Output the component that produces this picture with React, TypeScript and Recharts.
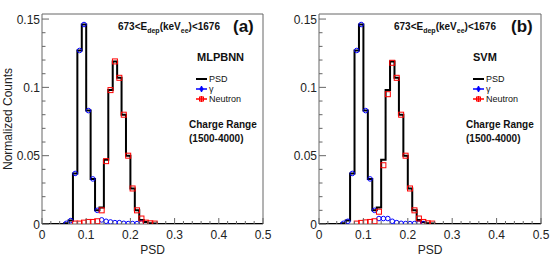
import React from "react";
import {
  ComposedChart,
  Line,
  Scatter,
  XAxis,
  YAxis,
  ReferenceArea,
} from "recharts";

// Two ROOT-style PSD histograms (MLPBNN vs SVM), 0.01 bins.

const FONT = "'Liberation Sans', Arial, Helvetica, sans-serif";
const BLUE = "#0000ff";
const RED = "#ff0000";
const FRAME = "#666666";

const Y_TOP = 0.1537; // ROOT max * 1.05

// black PSD histogram, step edges (left edge of each bin)
const psdEdges = [
  0, 0.05, 0.06, 0.07, 0.08, 0.09, 0.1, 0.11, 0.12, 0.13, 0.14, 0.15, 0.16,
  0.17, 0.18, 0.19, 0.2, 0.21, 0.22, 0.23, 0.24, 0.25, 0.26, 0.5,
];
const psdCounts = [
  0, 0.0005, 0.0025, 0.037, 0.127, 0.146, 0.083, 0.033, 0.01, 0.012, 0.047,
  0.098, 0.119, 0.107, 0.08, 0.05, 0.026, 0.01, 0.003, 0.0015, 0.0005, 0.0003,
  0, 0,
];

// (a) MLPBNN
const gammaCentersA = [
  0.055, 0.065, 0.075, 0.085, 0.095, 0.105, 0.115, 0.125, 0.135, 0.145, 0.155,
  0.165, 0.175, 0.185, 0.195, 0.205, 0.215, 0.225,
];
const gammaCountsA = [
  0.0005, 0.0025, 0.037, 0.127, 0.146, 0.083, 0.033, 0.01, 0.003, 0.002,
  0.0015, 0.001, 0.001, 0.0005, 0.0003, 0.0003, 0.0003, 0.0008,
];
const neutronCentersA = [
  0.075, 0.085, 0.095, 0.105, 0.115, 0.125, 0.135, 0.145, 0.155, 0.165, 0.175,
  0.185, 0.195, 0.205, 0.215, 0.225, 0.235, 0.245, 0.255,
];
const neutronCountsA = [
  0.0003, 0.0003, 0.001, 0.0015, 0.0015, 0.002, 0.01, 0.046, 0.098, 0.119,
  0.107, 0.08, 0.05, 0.026, 0.01, 0.004, 0.001, 0.0005, 0.0003,
];

// (b) SVM
const gammaCentersB = [
  0.055, 0.065, 0.075, 0.085, 0.095, 0.105, 0.115, 0.125, 0.135, 0.145, 0.155,
  0.165, 0.175, 0.185, 0.195, 0.205, 0.215, 0.225, 0.235,
];
const gammaCountsB = [
  0.0005, 0.002, 0.037, 0.127, 0.146, 0.083, 0.033, 0.01, 0.004, 0.004, 0.004,
  0.002, 0.001, 0.0005, 0.0003, 0.0003, 0.0003, 0.0005, 0.0003,
];
const neutronCentersB = [
  0.085, 0.095, 0.105, 0.115, 0.125, 0.135, 0.145, 0.155, 0.165, 0.175, 0.185,
  0.195, 0.205, 0.215, 0.225, 0.235, 0.245, 0.255,
];
const neutronCountsB = [
  0.0003, 0.0008, 0.0012, 0.0015, 0.002, 0.009, 0.043, 0.095, 0.118, 0.107,
  0.08, 0.05, 0.026, 0.01, 0.004, 0.0015, 0.0005, 0.0003,
];

const xTicks = [
  0, 0.02, 0.04, 0.06, 0.08, 0.1, 0.12, 0.14, 0.16, 0.18, 0.2, 0.22, 0.24,
  0.26, 0.28, 0.3, 0.32, 0.34, 0.36, 0.38, 0.4, 0.42, 0.44, 0.46, 0.48, 0.5,
];
const xMajor = [0, 0.1, 0.2, 0.3, 0.4, 0.5];
const yTicks = [
  0, 0.01, 0.02, 0.03, 0.04, 0.05, 0.06, 0.07, 0.08, 0.09, 0.1, 0.11, 0.12,
  0.13, 0.14, 0.15,
];
const yMajor = [0, 0.05, 0.1, 0.15];

const isMajor = (v: number, majors: number[]) =>
  majors.some((m) => Math.abs(m - v) < 1e-9);

const zip = (xs: number[], ys: number[]) =>
  xs.map((x, i) => ({ x, y: ys[i] }));

function XTick(props: any) {
  const { x, y, payload } = props;
  const major = isMajor(payload.value, xMajor);
  return (
    <g>
      <line x1={x} x2={x} y1={y} y2={y - (major ? 6 : 3)} stroke={FRAME} />
      {major && (
        <text
          x={x}
          y={y + 15}
          textAnchor="middle"
          fontSize={12}
          fontFamily={FONT}
          fill="#222"
        >
          {String(payload.value)}
        </text>
      )}
    </g>
  );
}

function YTick(props: any) {
  const { x, y, payload } = props;
  const major = isMajor(payload.value, yMajor);
  return (
    <g>
      <line x1={x} x2={x + (major ? 7 : 3.5)} y1={y} y2={y} stroke={FRAME} />
      {major && (
        <text
          x={x - 2}
          y={y + 4.5}
          textAnchor="end"
          fontSize={12}
          fontFamily={FONT}
          fill="#222"
        >
          {String(payload.value)}
        </text>
      )}
    </g>
  );
}

const circle = (p: any) => (
  <circle cx={p.cx} cy={p.cy} r={2.3} fill="none" stroke={BLUE} strokeWidth={1} />
);
const square = (p: any) => (
  <rect
    x={p.cx - 2.5}
    y={p.cy - 2.5}
    width={5}
    height={5}
    fill="none"
    stroke={RED}
    strokeWidth={1}
  />
);

function Panel(props: {
  gamma: { x: number; y: number }[];
  neutron: { x: number; y: number }[];
  width: number;
}) {
  const psd = zip(psdEdges, psdCounts);
  return (
    <ComposedChart
      width={props.width}
      height={265}
      margin={{ top: 14, right: 14, bottom: 0, left: 0 }}
    >
      <XAxis
        type="number"
        dataKey="x"
        domain={[0, 0.5]}
        ticks={xTicks}
        interval={0}
        height={41}
        tickSize={0}
        tickMargin={0}
        axisLine={false}
        tickLine={false}
        tick={<XTick />}
        allowDataOverflow
      />
      <YAxis
        type="number"
        dataKey="y"
        domain={[0, Y_TOP]}
        ticks={yTicks}
        interval={0}
        width={42}
        tickSize={0}
        tickMargin={0}
        axisLine={false}
        tickLine={false}
        tick={<YTick />}
        allowDataOverflow
      />
      <ReferenceArea
        x1={0}
        x2={0.5}
        y1={0}
        y2={Y_TOP}
        fill="none"
        stroke={FRAME}
        strokeWidth={1}
        ifOverflow="extendDomain"
      />
      <Line
        data={psd}
        dataKey="y"
        type="stepAfter"
        stroke="#000"
        strokeWidth={2}
        dot={false}
        isAnimationActive={false}
      />
      <Scatter
        data={props.gamma}
        dataKey="y"
        shape={circle}
        isAnimationActive={false}
      />
      <Scatter
        data={props.neutron}
        dataKey="y"
        shape={square}
        isAnimationActive={false}
      />
    </ComposedChart>
  );
}

function Labels(props: {
  dx: number;
  title: number;
  tag: number;
  tagText: string;
  method: string;
  methodX: number;
  legX: number;
  chargeX: number;
}) {
  const { dx } = props;
  const rows = [
    { y: 79, label: "PSD", kind: "line" },
    { y: 89, label: "γ", kind: "gamma" },
    { y: 99, label: "Neutron", kind: "neutron" },
  ];
  return (
    <g fontFamily={FONT} fill="#111">
      <text x={props.title} y={30} fontSize={10} fontWeight="bold">
        673&lt;E
        <tspan fontSize={7} dy={2.5}>
          dep
        </tspan>
        <tspan dy={-2.5}>(keV</tspan>
        <tspan fontSize={7} dy={2.5}>
          ee
        </tspan>
        <tspan dy={-2.5}>)&lt;1676</tspan>
      </text>
      <text x={props.tag} y={31.5} fontSize={17} fontWeight="bold">
        {props.tagText}
      </text>
      <text x={props.methodX} y={61} fontSize={11} fontWeight="bold">
        {props.method}
      </text>
      {rows.map((r) => {
        const c = r.kind === "gamma" ? BLUE : r.kind === "neutron" ? RED : "#000";
        return (
          <g key={r.label}>
            <line
              x1={props.legX}
              x2={props.legX + 11}
              y1={r.y}
              y2={r.y}
              stroke={c}
              strokeWidth={r.kind === "line" ? 2 : 1.5}
            />
            {r.kind === "gamma" && (
              <>
                <line x1={props.legX + 5.5} x2={props.legX + 5.5} y1={r.y - 3} y2={r.y + 3} stroke={c} strokeWidth={1.5} />
                <circle cx={props.legX + 5.5} cy={r.y} r={2} fill={c} />
              </>
            )}
            {r.kind === "neutron" && (
              <>
                <line x1={props.legX + 5.5} x2={props.legX + 5.5} y1={r.y - 3} y2={r.y + 3} stroke={c} strokeWidth={1.5} />
                <rect x={props.legX + 3.5} y={r.y - 2} width={4} height={4} fill="none" stroke={c} />
              </>
            )}
            <text x={props.legX + 13} y={r.y + 3} fontSize={9}>
              {r.label}
            </text>
          </g>
        );
      })}
      <text x={props.chargeX} y={127.5} fontSize={10} fontWeight="bold">
        Charge Range
      </text>
      <text x={props.chargeX} y={142} fontSize={10} fontWeight="bold">
        (1500-4000)
      </text>
      <text
        x={dx + 152.5}
        y={254}
        fontSize={12}
        textAnchor="middle"
        fill="#222"
      >
        PSD
      </text>
    </g>
  );
}

export default function App() {
  return (
    <div
      style={{
        position: "absolute",
        left: 0,
        top: 0,
        width: 555,
        height: 265,
        background: "#fff",
        overflow: "hidden",
      }}
    >
      <div style={{ position: "absolute", left: 0, top: 0 }}>
        <Panel
          width={277}
          gamma={zip(gammaCentersA, gammaCountsA)}
          neutron={zip(neutronCentersA, neutronCountsA)}
        />
      </div>
      <div style={{ position: "absolute", left: 277, top: 0 }}>
        <Panel
          width={278}
          gamma={zip(gammaCentersB, gammaCountsB)}
          neutron={zip(neutronCentersB, neutronCountsB)}
        />
      </div>
      <svg
        width={555}
        height={265}
        style={{ position: "absolute", left: 0, top: 0, pointerEvents: "none" }}
      >
        <text
          transform="translate(12,119) rotate(-90)"
          textAnchor="middle"
          fontSize={12}
          fontFamily={FONT}
          fill="#222"
        >
          Normalized Counts
        </text>
        <Labels
          dx={0}
          title={118}
          tag={233}
          tagText="(a)"
          method="MLPBNN"
          methodX={197}
          legX={196}
          chargeX={189}
        />
        <Labels
          dx={277.5}
          title={394}
          tag={511}
          tagText="(b)"
          method="SVM"
          methodX={473}
          legX={473}
          chargeX={466}
        />
      </svg>
    </div>
  );
}
